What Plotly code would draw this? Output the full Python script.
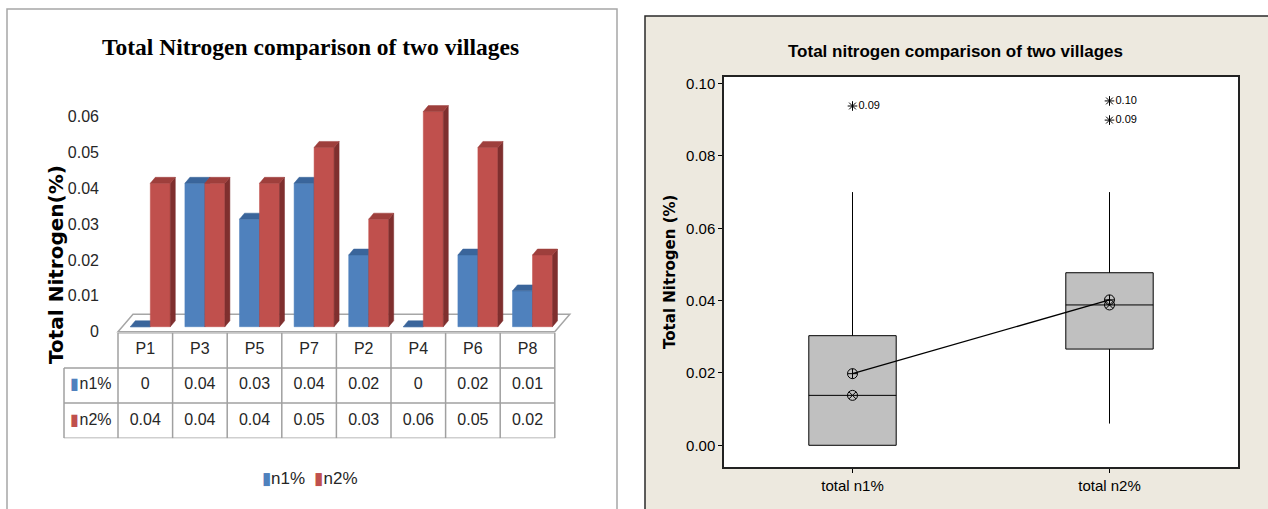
import plotly.graph_objects as go

W, H = 1268, 509

# ---- data: left panel (3D column chart + data table) ----
plots = ['P1', 'P3', 'P5', 'P7', 'P2', 'P4', 'P6', 'P8']
n1 = [0, 0.04, 0.03, 0.04, 0.02, 0, 0.02, 0.01]
n2 = [0.04, 0.04, 0.04, 0.05, 0.03, 0.06, 0.05, 0.02]
series_names = ['n1%', 'n2%']
left_ticks = [0, 0.01, 0.02, 0.03, 0.04, 0.05, 0.06]

# ---- data: right panel (boxplot) ----
box_names = ['total n1%', 'total n2%']
box_q1 = [0.0, 0.0266]
box_median = [0.0138, 0.0388]
box_q3 = [0.0303, 0.0477]
box_low = [0.0, 0.006]
box_high = [0.07, 0.07]
box_mean = [0.0198, 0.0402]
outlier_box = ['total n1%', 'total n2%', 'total n2%']
outlier_val = [0.0938, 0.0952, 0.0899]
right_ticks = [0.0, 0.02, 0.04, 0.06, 0.08, 0.10]

SANS = 'Liberation Sans, Arial, sans-serif'
WIDE = 'DejaVu Sans, Verdana, sans-serif'
SERIF = 'Liberation Serif, Times New Roman, serif'


def px(x):
    return x / W


def py(y):
    return 1 - y / H


# left axis geometry (pixels -> data units)
CELL = 54.6          # px per category
ZERO_PX = 326        # bar base (front face)
YSCALE = 3600        # px per unit of %


def xd(p):
    return -0.5 + (p - 118) / CELL


def yd(p):
    return (ZERO_PX - p) / YSCALE


shift = 5 / CELL      # front face sits a little into the depth
bw = 20 / CELL        # bar width
ddx, ddy = 5 / CELL, 6 / YSCALE   # bar depth

front_col = ['#4F81BD', '#C0504D']
top_col = ['#3A659B', '#9E3F3C']
side_col = ['#2E5280', '#7F2F2E']

fig = go.Figure()

# 3D columns as faces (front, side, top) built from values
for s, vals in enumerate([n1, n2]):
    faces = {'front': ([], []), 'side': ([], []), 'top': ([], [])}
    for i, v in enumerate(vals):
        x0 = i + shift - bw + s * bw
        x1 = x0 + bw
        fx, fy = faces['front']
        fx += [x0, x1, x1, x0, x0, None]
        fy += [0, 0, v, v, 0, None]
        sx, sy = faces['side']
        sx += [x1, x1 + ddx, x1 + ddx, x1, x1, None]
        sy += [0, ddy, v + ddy, v, 0, None]
        tx, ty = faces['top']
        tx += [x0, x1, x1 + ddx, x0 + ddx, x0, None]
        ty += [v, v, v + ddy, v + ddy, v, None]
    for face, col in [('front', front_col[s]), ('side', side_col[s]), ('top', top_col[s])]:
        fx, fy = faces[face]
        fig.add_trace(go.Scatter(
            x=fx, y=fy, mode='lines', fill='toself', fillcolor=col,
            line=dict(width=0.5, color=col), hoverinfo='skip', showlegend=False,
            xaxis='x', yaxis='y'))

# data table under the columns
table_rows = [plots, [f'{v:g}' for v in n1], [f'{v:g}' for v in n2]]
for r, row in enumerate(table_rows):
    fig.add_trace(go.Scatter(
        x=list(range(len(row))), y=[r + 0.5] * len(row), text=row, mode='text',
        textfont=dict(family=SANS, size=16, color='#262626'),
        hoverinfo='skip', showlegend=False, xaxis='x', yaxis='y2'))

row_labels = [f'<span style="color:{front_col[s]}">\u25AE</span>{name}'
              for s, name in enumerate(series_names)]
fig.add_trace(go.Scatter(
    x=[xd(91)] * 2, y=[1.5, 2.5], mode='text', text=row_labels,
    textfont=dict(family=SANS, size=16, color='#262626'),
    hoverinfo='skip', showlegend=False, xaxis='x', yaxis='y2'))

# ---- right panel: boxplot ----
for k, name in enumerate(box_names):
    fig.add_trace(go.Box(
        x=[name], q1=[box_q1[k]], median=[box_median[k]], q3=[box_q3[k]],
        lowerfence=[box_low[k]], upperfence=[box_high[k]],
        width=0.34, whiskerwidth=0, fillcolor='#C0C0C0',
        line=dict(color='black', width=1), boxpoints=False,
        hoverinfo='skip', showlegend=False, xaxis='x2', yaxis='y3'))

fig.add_trace(go.Scatter(
    x=box_names, y=box_median, mode='markers',
    marker=dict(symbol='circle-x-open', size=10, color='black', line=dict(width=1)),
    hoverinfo='skip', showlegend=False, xaxis='x2', yaxis='y3'))
fig.add_trace(go.Scatter(
    x=box_names, y=box_mean, mode='lines+markers',
    line=dict(color='black', width=1.3),
    marker=dict(symbol='circle-cross-open', size=10, color='black', line=dict(width=1)),
    hoverinfo='skip', showlegend=False, xaxis='x2', yaxis='y3'))
fig.add_trace(go.Scatter(
    x=outlier_box, y=outlier_val, mode='markers+text',
    text=[f'{v:.2f}' for v in outlier_val], textposition='middle right',
    textfont=dict(family=SANS, size=11, color='black'),
    marker=dict(symbol='asterisk-open', size=8, color='black', line=dict(width=1, color='black')),
    hoverinfo='skip', showlegend=False, xaxis='x2', yaxis='y3'))

# ---- shapes: panel frames, floor, table grid ----
shapes = [
    dict(type='rect', xref='paper', yref='paper', x0=px(7), x1=px(617), y0=py(520), y1=py(7),
         line=dict(color='#A6A6A6', width=1.5), fillcolor='white', layer='below'),
    dict(type='rect', xref='paper', yref='paper', x0=px(645), x1=px(1280), y0=py(520), y1=py(14),
         line=dict(color='#2A2A2A', width=1.5), fillcolor='#EDE9DF', layer='below'),
    dict(type='rect', xref='x2 domain', yref='y3 domain', x0=0, x1=1, y0=0, y1=1,
         line=dict(width=0), fillcolor='white', layer='below'),
]

fdx, fdy = 15 / CELL, 17.5 / YSCALE
f_front = yd(331)
floor_path = (f'M{-0.5},{f_front} L{7.5},{f_front} L{7.5 + fdx},{f_front + fdy} '
              f'L{-0.5 + fdx},{f_front + fdy} Z')
shapes.append(dict(type='path', xref='x', yref='y', path=floor_path,
                   line=dict(color='#A6A6A6', width=1.5), fillcolor='white', layer='below'))

grid = dict(color='#A0A0A0', width=1.5)
shapes.append(dict(type='line', xref='x', yref='y2', x0=-0.5, x1=7.5, y0=0, y1=0, line=grid))
for r in (1, 2, 3):
    shapes.append(dict(type='line', xref='x', yref='y2', x0=xd(64), x1=7.5, y0=r, y1=r, line=grid))
shapes.append(dict(type='line', xref='x', yref='y2', x0=xd(64), x1=xd(64), y0=1, y1=3, line=grid))
for c in range(len(plots) + 1):
    shapes.append(dict(type='line', xref='x', yref='y2', x0=c - 0.5, x1=c - 0.5, y0=0, y1=3, line=grid))

legend_text = '  '.join(f'<span style="color:{front_col[s]}">\u25AE</span>{name}'
                        for s, name in enumerate(series_names))

annotations = [
    dict(text='<b>Total Nitrogen comparison of two villages</b>', x=px(310), y=py(45),
         xref='paper', yref='paper', showarrow=False, xanchor='center', yanchor='middle',
         font=dict(family=SERIF, size=23.5, color='black')),
    dict(text='<b>Total Nitrogen(%)</b>', x=px(56), y=py(264), textangle=-90,
         xref='paper', yref='paper', showarrow=False, xanchor='center', yanchor='middle',
         font=dict(family=WIDE, size=20, color='black')),
    dict(text=legend_text, x=px(310), y=py(478),
         xref='paper', yref='paper', showarrow=False, xanchor='center', yanchor='middle',
         font=dict(family=SANS, size=17, color='#262626')),
    dict(text='<b>Total nitrogen comparison of two villages</b>', x=px(955), y=py(50),
         xref='paper', yref='paper', showarrow=False, xanchor='center', yanchor='middle',
         font=dict(family=SANS, size=17, color='black')),
    dict(text='<b>Total Nitrogen (%)</b>', x=px(670), y=py(271), textangle=-90,
         xref='paper', yref='paper', showarrow=False, xanchor='center', yanchor='middle',
         font=dict(family=WIDE, size=15, color='black')),
]

fig.update_layout(
    width=W, height=H, margin=dict(l=0, r=0, t=0, b=0),
    paper_bgcolor='white', plot_bgcolor='rgba(0,0,0,0)',
    shapes=shapes, annotations=annotations, showlegend=False,
    xaxis=dict(domain=[px(40), px(600)], range=[xd(40), xd(600)], visible=False,
               anchor='y', fixedrange=True),
    yaxis=dict(domain=[py(450), py(90)], range=[yd(450), yd(90)], anchor='free',
               position=px(99), tickvals=left_ticks, ticktext=[f'{v:g}' for v in left_ticks],
               ticks='', showgrid=False, zeroline=False, showline=False,
               ticklabelshift=5,
               tickfont=dict(family=SANS, size=16, color='#262626')),
    yaxis2=dict(domain=[py(438), py(332)], range=[3, 0], visible=False, anchor='x'),
    xaxis2=dict(domain=[px(724), px(1238)], anchor='y3', type='category', range=[-0.5, 1.5],
                ticks='outside', ticklen=4, tickcolor='black', showline=True, mirror=True,
                linecolor='#222', linewidth=1.5, showgrid=False,
                tickfont=dict(family=SANS, size=15, color='black')),
    yaxis3=dict(domain=[py(467), py(75)], anchor='x2', range=[-0.00605, 0.1019],
                tickvals=right_ticks, tickformat='.2f', ticks='outside', ticklen=4,
                tickcolor='black', showline=True, mirror=True, linecolor='#222', linewidth=1.5,
                showgrid=False, zeroline=False,
                tickfont=dict(family=SANS, size=15, color='black')),
)

# the page body has a default 8px margin; drop it so the figure sits at the window origin
fig.write_html('out.html', config={'displayModeBar': False},
               post_script="document.body.style.margin='0';")
